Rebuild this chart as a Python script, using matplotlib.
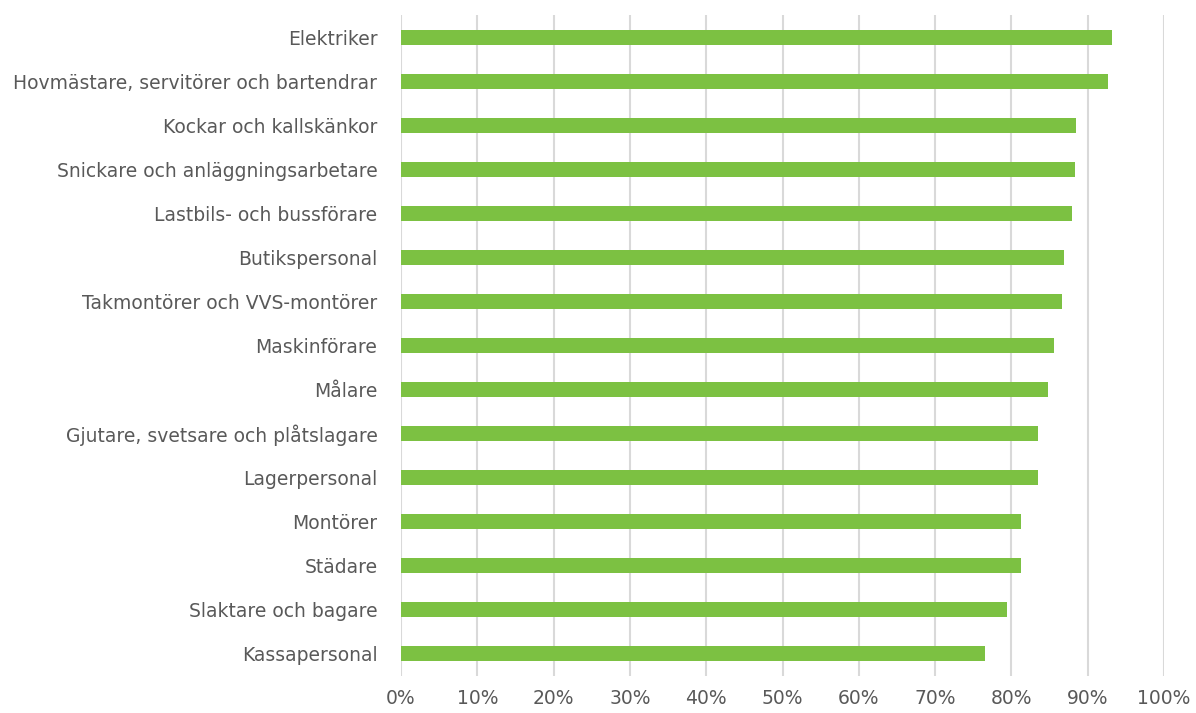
import matplotlib
matplotlib.use("Agg")
import matplotlib.pyplot as plt
from matplotlib.ticker import PercentFormatter

# yrken, uppifrån och ned
categories = [
    "Elektriker",
    "Hovmästare, servitörer och bartendrar",
    "Kockar och kallskänkor",
    "Snickare och anläggningsarbetare",
    "Lastbils- och bussförare",
    "Butikspersonal",
    "Takmontörer och VVS-montörer",
    "Maskinförare",
    "Målare",
    "Gjutare, svetsare och plåtslagare",
    "Lagerpersonal",
    "Montörer",
    "Städare",
    "Slaktare och bagare",
    "Kassapersonal",
]
values = [93.2, 92.6, 88.5, 88.4, 87.9, 86.9, 86.6, 85.6, 84.8, 83.5, 83.5, 81.3, 81.2, 79.4, 76.6]
xticks = [0, 10, 20, 30, 40, 50, 60, 70, 80, 90, 100]

text_col = "#595959"
grid_col = "#d9d9d9"

fig = plt.figure(figsize=(11.96, 7.13), dpi=100)
ax = fig.add_axes([401 / 1196, 1 - 676 / 713, (1164 - 401) / 1196, (676 - 15) / 713])

ypos = list(range(len(categories)))
ax.barh(ypos, values, height=0.34, color="#7CC142", zorder=3)

ax.set_xlim(0, 100)
ax.set_ylim(len(categories) - 0.5, -0.5)
ax.set_xticks(xticks)
ax.xaxis.set_major_formatter(PercentFormatter(decimals=0))
ax.set_yticks(ypos)
ax.set_yticklabels(categories)

ax.grid(axis="x", color=grid_col, linewidth=1.5, zorder=0)
for s in ax.spines.values():
    s.set_visible(False)
ax.tick_params(axis="both", length=0, colors=text_col, labelsize=13.5)
ax.tick_params(axis="y", pad=17)
ax.tick_params(axis="x", pad=9)

fig.savefig("out.png", dpi=100)
